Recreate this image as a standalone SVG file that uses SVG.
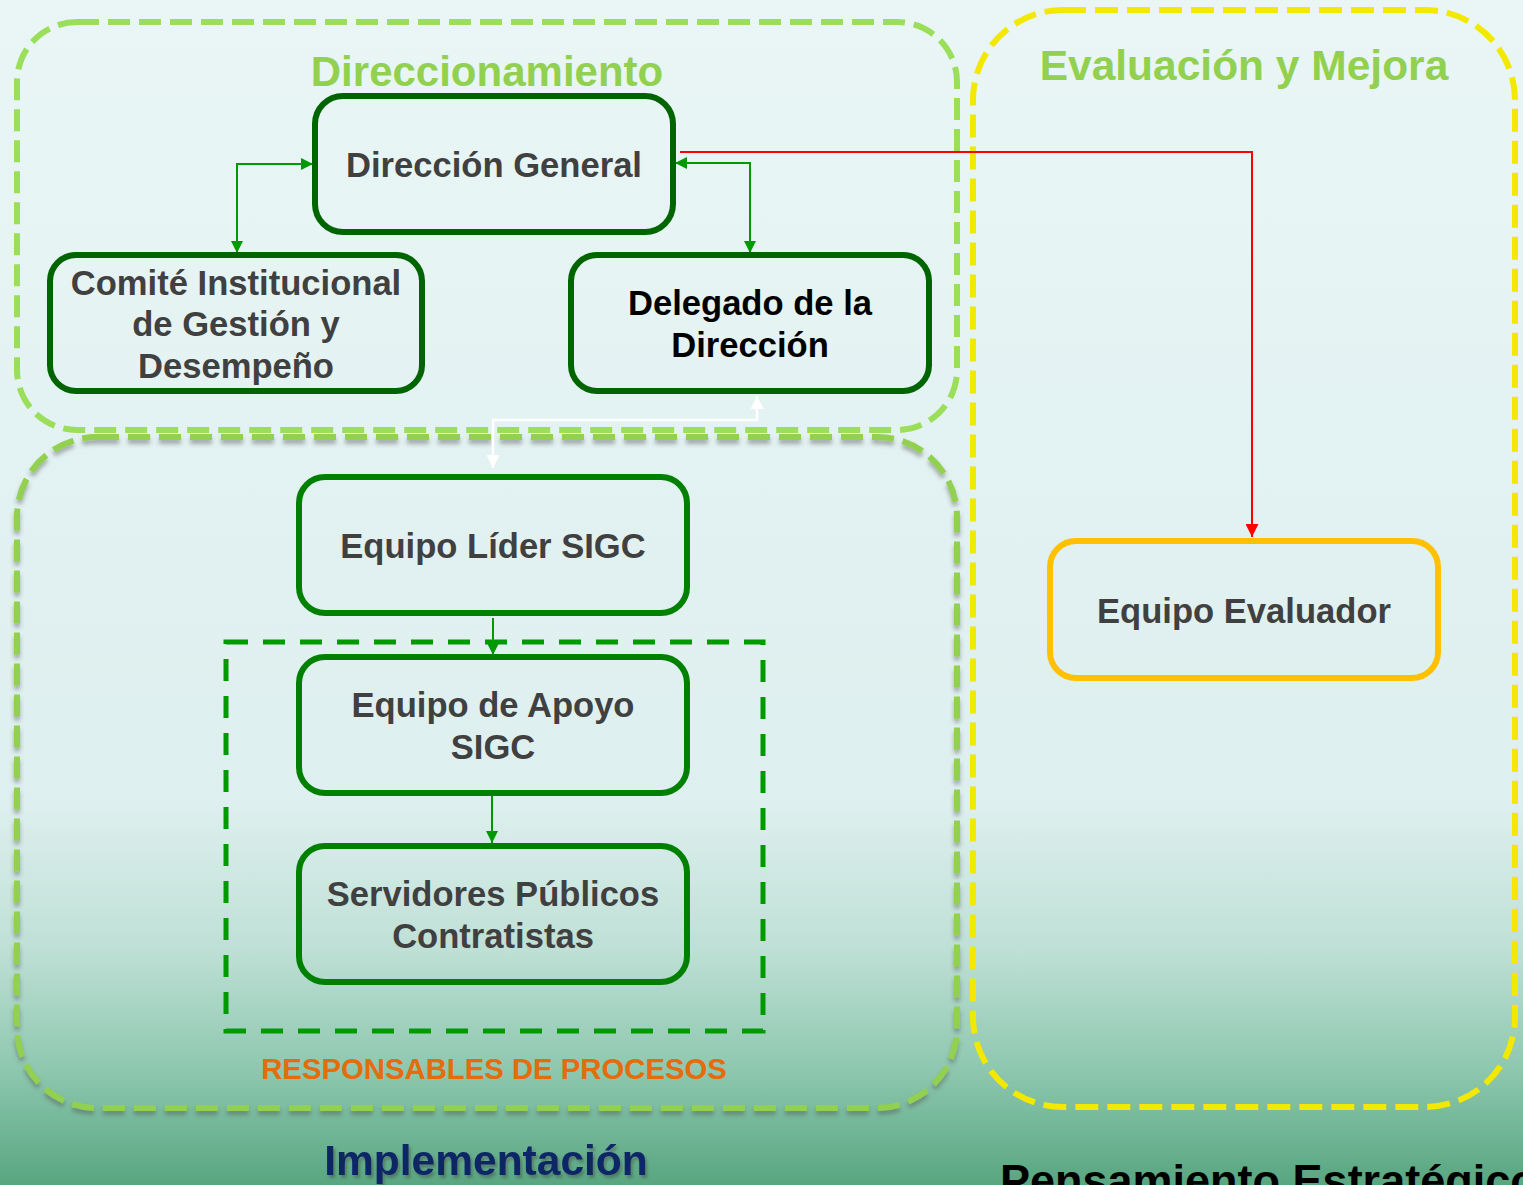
<svg xmlns="http://www.w3.org/2000/svg" width="1523" height="1185" viewBox="0 0 1523 1185">
<defs>
<linearGradient id="bg" x1="0" y1="0" x2="0" y2="1">
<stop offset="0" stop-color="#eaf6f6"/>
<stop offset="0.68" stop-color="#ddefee"/>
<stop offset="0.8" stop-color="#bfe0d6"/>
<stop offset="0.9" stop-color="#8fc8b0"/>
<stop offset="1" stop-color="#58a680"/>
</linearGradient>
<filter id="sh" x="-5%" y="-5%" width="110%" height="110%">
<feDropShadow dx="0" dy="4" stdDeviation="2" flood-color="#505050" flood-opacity="0.45"/>
</filter>
<filter id="tsh" x="-10%" y="-20%" width="120%" height="150%">
<feDropShadow dx="2" dy="3" stdDeviation="1.5" flood-color="#404040" flood-opacity="0.45"/>
</filter>
<marker id="ag" viewBox="0 0 10 10" refX="10" refY="5" markerWidth="12" markerHeight="13" markerUnits="userSpaceOnUse" orient="auto-start-reverse">
<path d="M0,0 L10,5 L0,10 z" fill="#009900"/>
</marker>
<marker id="ar" viewBox="0 0 10 10" refX="10" refY="5" markerWidth="14" markerHeight="13" markerUnits="userSpaceOnUse" orient="auto-start-reverse">
<path d="M0,0 L10,5 L0,10 z" fill="#ff0000"/>
</marker>
<marker id="aw" viewBox="0 0 10 10" refX="10" refY="5" markerWidth="14" markerHeight="13" markerUnits="userSpaceOnUse" orient="auto-start-reverse">
<path d="M0,0 L10,5 L0,10 z" fill="#ffffff"/>
</marker>
</defs>
<style>
text{font-family:"Liberation Sans",Arial,sans-serif;font-weight:bold;text-anchor:middle}
.node{fill:none;stroke-width:6}
.dk{stroke:#006400}
.md{stroke:#008000}
.nt{font-size:34.6px;fill:#404040}
.cont{fill:none;stroke-width:6;stroke-dasharray:22 9}
.title{fill:#92d050}
.cg{fill:none;stroke:#009900;stroke-width:2}
</style>
<rect width="1523" height="1185" fill="url(#bg)"/>

<g id="containers">
<rect id="implementacion-box" x="17" y="437" width="940" height="671" rx="80" class="cont" stroke="#92d050" filter="url(#sh)"/>
<rect id="direccionamiento-box" x="17" y="22" width="940" height="408" rx="60" class="cont" stroke="#9ade5a"/>
<rect id="evaluacion-box" x="973" y="10" width="542" height="1097" rx="90" class="cont" stroke="#f2e800" style="stroke-dasharray:23 9"/>
<rect id="responsables-box" x="226" y="642" width="537" height="389" fill="none" stroke="#009900" stroke-width="5" stroke-dasharray="22 15"/>
</g>

<g id="labels">
<text x="487" y="86" class="title" style="font-size:42px">Direccionamiento</text>
<text x="1244" y="80" class="title" style="font-size:42.5px">Evaluación y Mejora</text>
<text x="494" y="1079" style="font-size:29.3px;fill:#e46c0a">RESPONSABLES DE PROCESOS</text>
<text x="486" y="1175" style="font-size:42.5px;fill:#0d2566" filter="url(#tsh)">Implementación</text>
<text x="1000" y="1196" style="font-size:45px;fill:#000000;text-anchor:start">Pensamiento Estratégico</text>
</g>

<g id="connectors">
<path d="M237,253 V164 H313" class="cg" marker-start="url(#ag)" marker-end="url(#ag)"/>
<path d="M675,163 H750 V253" class="cg" marker-start="url(#ag)" marker-end="url(#ag)"/>
<path d="M680,152 H1252 V537" fill="none" stroke="#ff0000" stroke-width="2" marker-end="url(#ar)"/>
<path d="M757,396 V420 H493 V468" fill="none" stroke="#ffffff" stroke-width="2.5" marker-start="url(#aw)" marker-end="url(#aw)"/>
<path d="M493,618 V655" class="cg" marker-end="url(#ag)"/>
<path d="M492,795 V843" class="cg" marker-end="url(#ag)"/>
</g>

<g id="direccion-general">
<rect x="315" y="96" width="358" height="136" rx="28" class="node dk"/>
<text x="494" y="177" class="nt">Dirección General</text>
</g>
<g id="comite">
<rect x="50" y="255" width="372" height="136" rx="26" class="node dk"/>
<text x="236" y="295" class="nt">Comité Institucional</text>
<text x="236" y="336" class="nt">de Gestión y</text>
<text x="236" y="378" class="nt">Desempeño</text>
</g>
<g id="delegado">
<rect x="571" y="255" width="358" height="136" rx="26" class="node dk"/>
<text x="750" y="315" class="nt" style="fill:#000000">Delegado de la</text>
<text x="750" y="357" class="nt" style="fill:#000000">Dirección</text>
</g>
<g id="equipo-lider">
<rect x="299" y="477" width="388" height="136" rx="26" class="node md"/>
<text x="493" y="558" class="nt">Equipo Líder SIGC</text>
</g>
<g id="equipo-apoyo">
<rect x="299" y="657" width="388" height="136" rx="26" class="node md"/>
<text x="493" y="717" class="nt">Equipo de Apoyo</text>
<text x="493" y="759" class="nt">SIGC</text>
</g>
<g id="servidores">
<rect x="299" y="846" width="388" height="136" rx="26" class="node md"/>
<text x="493" y="906" class="nt">Servidores Públicos</text>
<text x="493" y="948" class="nt">Contratistas</text>
</g>
<g id="equipo-evaluador">
<rect x="1050" y="541" width="388" height="137" rx="26" class="node" stroke="#ffc000"/>
<text x="1244" y="623" class="nt">Equipo Evaluador</text>
</g>
</svg>
